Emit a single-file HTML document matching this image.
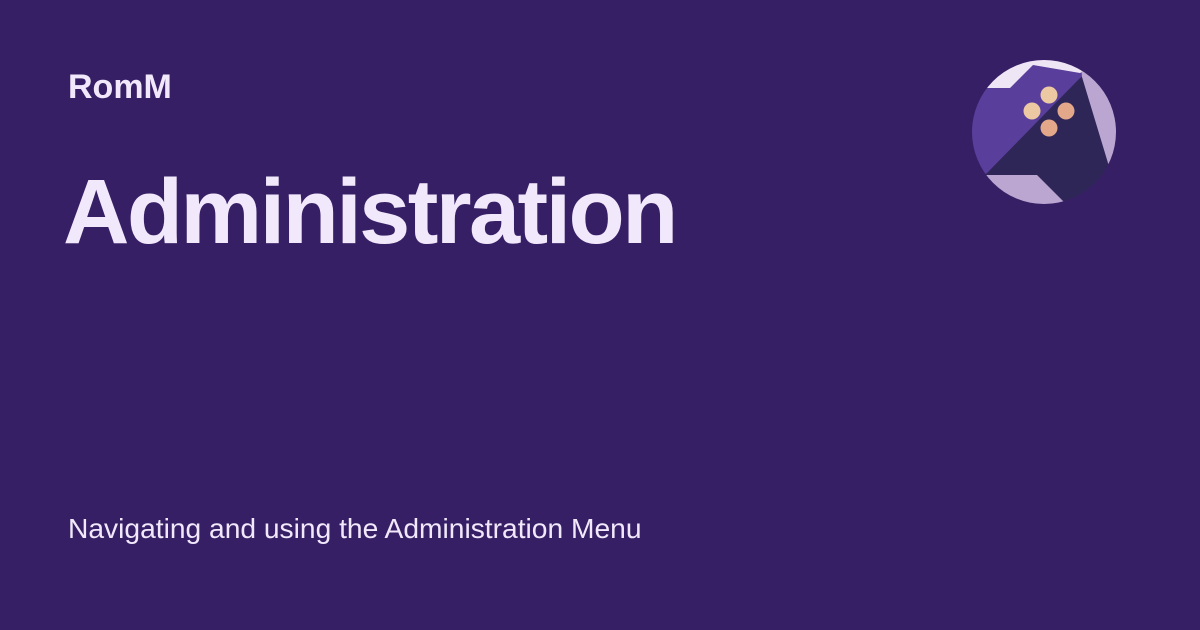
<!DOCTYPE html>
<html><head><meta charset="utf-8"><style>
html,body{margin:0;padding:0}
body{width:1200px;height:630px;background:#371f66;position:relative;overflow:hidden;font-family:"Liberation Sans",sans-serif;color:#f1e8fb}
.t{position:absolute;white-space:nowrap;line-height:1}
</style></head><body>
<div class="t" style="left:68px;top:70px;font-size:34px;font-weight:bold">RomM</div>
<div class="t" style="left:63px;top:166px;font-size:92px;font-weight:bold;letter-spacing:-2.6px">Administration</div>
<div class="t" style="left:68px;top:514px;font-size:28.2px">Navigating and using the Administration Menu</div>
<svg style="position:absolute;left:0;top:0" width="1200" height="630">
<defs><clipPath id="c"><circle cx="1044" cy="132" r="72"/></clipPath></defs>
<g clip-path="url(#c)">
<rect x="960" y="50" width="170" height="170" fill="#2f2658"/>
<polygon points="960,50 1130,50 1080,78 987,173 960,200" fill="#5a3e9b"/>
<polygon points="960,50 1130,50 1080,73 1033,65 1010,88 987,88 960,88" fill="#efe6f5"/>
<polygon points="1080,50 1130,50 1130,220 1108,163 1082,77" fill="#bba6d2"/>
<polygon points="960,175 1037,175 1067,205 1067,220 960,220" fill="#bba6d2"/>
</g>
<circle cx="1049" cy="95" r="8.5" fill="#ecc9a3"/>
<circle cx="1032" cy="111" r="8.5" fill="#ecc9a3"/>
<circle cx="1066" cy="111" r="8.5" fill="#e3a88a"/>
<circle cx="1049" cy="128" r="8.5" fill="#e3a88a"/>
</svg>
</body></html>
